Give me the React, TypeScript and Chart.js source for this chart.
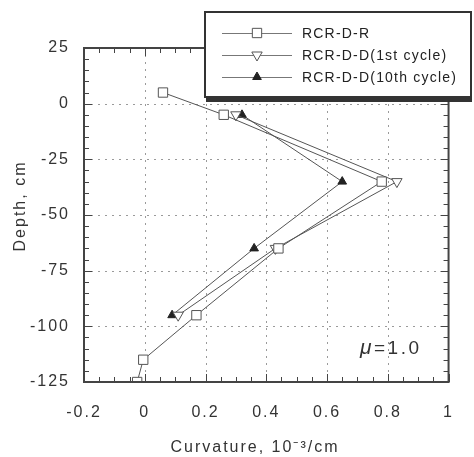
import React, { useEffect, useRef } from "react";
import { Chart, registerables } from "chart.js";

Chart.register(...registerables);

const seriesNames = ["RCR-D-R", "RCR-D-D(1st cycle)", "RCR-D-D(10th cycle)"];
const rX = [0.06, 0.26, 0.78, 0.44, 0.17, -0.005, -0.025];
const rY = [5, -5, -35, -65, -95, -115, -125];
const d1X = [0.3, 0.83, 0.43, 0.11];
const d1Y = [-5, -35, -65, -95];
const d10X = [0.32, 0.65, 0.36, 0.09];
const d10Y = [-5, -35, -65, -95];
const xTicks = [-0.2, 0, 0.2, 0.4, 0.6, 0.8, 1];
const yTicks = [25, 0, -25, -50, -75, -100, -125];
const xTitle = "Curvature, 10⁻³/cm";
const yTitle = "Depth, cm";
const muLabel = "=1.0";

const pts = (xs: number[], ys: number[]) => xs.map((x, i) => ({ x, y: ys[i] }));

const LINE = "#555";
const FONT = "Arial, 'Liberation Sans', sans-serif";

function drawMarker(
  ctx: CanvasRenderingContext2D,
  style: string,
  r: number,
  rot: number,
  x: number,
  y: number
) {
  ctx.beginPath();
  if (style === "rect") {
    const s = Math.SQRT1_2 * r;
    ctx.rect(x - s, y - s, 2 * s, 2 * s);
  } else {
    const a = (rot * Math.PI) / 180;
    for (let k = 0; k < 3; k++) {
      const ang = a - Math.PI / 2 + (k * 2 * Math.PI) / 3;
      const px = x + Math.cos(ang) * r;
      const py = y + Math.sin(ang) * r;
      if (k === 0) ctx.moveTo(px, py);
      else ctx.lineTo(px, py);
    }
    ctx.closePath();
  }
  ctx.fill();
  ctx.stroke();
}

const overlay = {
  id: "overlay",
  beforeDraw(chart: any) {
    chart.ctx.letterSpacing = "2px";
  },
  beforeDatasetsDraw(chart: any) {
    const ctx = chart.ctx as CanvasRenderingContext2D;
    const { left, right, top, bottom } = chart.chartArea;
    const xs = chart.scales.x;
    const ys = chart.scales.y;
    ctx.save();
    ctx.strokeStyle = "#9a9a9a";
    ctx.lineWidth = 1;
    ctx.setLineDash([2, 5]);
    ctx.beginPath();
    xs.ticks.forEach((t: any) => {
      const px = Math.round(xs.getPixelForValue(t.value)) + 0.5;
      if (px <= left + 2 || px >= right - 2) return;
      ctx.moveTo(px, top);
      ctx.lineTo(px, bottom);
    });
    ys.ticks.forEach((t: any) => {
      const py = Math.round(ys.getPixelForValue(t.value)) + 0.5;
      if (py <= top + 2 || py >= bottom - 2) return;
      ctx.moveTo(left, py);
      ctx.lineTo(right, py);
    });
    ctx.stroke();
    ctx.restore();
  },
  afterDraw(chart: any) {
    const ctx = chart.ctx as CanvasRenderingContext2D;
    const { left, right, top, bottom } = chart.chartArea;
    const xs = chart.scales.x;
    const ys = chart.scales.y;
    ctx.save();
    ctx.letterSpacing = "0px";
    // minor ticks
    ctx.strokeStyle = "#444";
    ctx.lineWidth = 1;
    ctx.beginPath();
    for (let i = -4; i <= 20; i++) {
      const v = i * 0.05;
      const px = Math.round(xs.getPixelForValue(v)) + 0.5;
      const len = i % 4 === 0 ? 8 : 5;
      ctx.moveTo(px, bottom);
      ctx.lineTo(px, bottom - len);
      ctx.moveTo(px, top);
      ctx.lineTo(px, top + len);
    }
    for (let i = -25; i <= 5; i++) {
      const v = i * 5;
      const py = Math.round(ys.getPixelForValue(v)) + 0.5;
      const len = i % 5 === 0 ? 8 : 5;
      ctx.moveTo(left, py);
      ctx.lineTo(left + len, py);
      ctx.moveTo(right, py);
      ctx.lineTo(right - len, py);
    }
    ctx.stroke();
    // frame
    ctx.strokeStyle = "#444";
    ctx.lineWidth = 2;
    ctx.strokeRect(left, top, right - left, bottom - top);

    // axis titles
    ctx.fillStyle = "#333";
    ctx.letterSpacing = "2px";
    ctx.font = `16px ${FONT}`;
    ctx.textAlign = "center";
    ctx.textBaseline = "middle";
    ctx.fillText(xTitle, 255, 448);
    ctx.save();
    ctx.translate(21, 206);
    ctx.rotate(-Math.PI / 2);
    ctx.fillText(yTitle, 0, 0);
    ctx.restore();

    // mu label
    ctx.textAlign = "left";
    ctx.textBaseline = "alphabetic";
    ctx.letterSpacing = "0px";
    ctx.font = `italic 21px ${FONT}`;
    ctx.fillText("μ", 360, 354);
    ctx.letterSpacing = "2.5px";
    ctx.font = `19px ${FONT}`;
    ctx.fillText(muLabel, 374, 354);

    // legend box
    const bx = 205, by = 12, bw = 266, bh = 85;
    ctx.fillStyle = "#fff";
    ctx.fillRect(bx, by, bw, bh);
    ctx.fillStyle = "#333";
    ctx.fillRect(bx + 1, by + bh - 1, bw, 6);
    ctx.strokeStyle = "#333";
    ctx.lineWidth = 2;
    ctx.strokeRect(bx, by, bw, bh);

    const rows = [33, 55, 77];
    chart.data.datasets.forEach((ds: any, i: number) => {
      const yy = rows[i];
      ctx.strokeStyle = "#777";
      ctx.lineWidth = 1;
      ctx.beginPath();
      ctx.moveTo(222, yy + 0.5);
      ctx.lineTo(292, yy + 0.5);
      ctx.stroke();
      ctx.fillStyle = ds.pointBackgroundColor;
      ctx.strokeStyle = ds.pointBorderColor;
      ctx.lineWidth = 1;
      drawMarker(ctx, ds.pointStyle, ds.pointRadius, ds.pointRotation || 0, 257, yy);
      ctx.fillStyle = "#222";
      ctx.letterSpacing = "1.2px";
      ctx.font = `14px ${FONT}`;
      ctx.textAlign = "left";
      ctx.textBaseline = "middle";
      ctx.fillText(ds.label, 302, yy + 1);
    });
    ctx.restore();
  },
};

export default function App() {
  const ref = useRef<HTMLCanvasElement | null>(null);
  useEffect(() => {
    if (!ref.current) return;
    const chart = new Chart(ref.current, {
      type: "line",
      data: {
        datasets: [
          {
            label: seriesNames[0],
            data: pts(rX, rY),
            borderColor: LINE,
            borderWidth: 1,
            pointStyle: "rect",
            pointRadius: 6.6,
            pointBackgroundColor: "#fff",
            pointBorderColor: "#555",
            pointBorderWidth: 1,
            showLine: true,
          },
          {
            label: seriesNames[1],
            data: pts(d1X, d1Y),
            borderColor: LINE,
            borderWidth: 1,
            pointStyle: "triangle",
            pointRotation: 180,
            pointRadius: 6,
            pointBackgroundColor: "#fff",
            pointBorderColor: "#555",
            pointBorderWidth: 1,
            showLine: true,
          },
          {
            label: seriesNames[2],
            data: pts(d10X, d10Y),
            borderColor: LINE,
            borderWidth: 1,
            pointStyle: "triangle",
            pointRadius: 5,
            pointBackgroundColor: "#222",
            pointBorderColor: "#222",
            pointBorderWidth: 1,
            showLine: true,
          },
        ] as any,
      },
      options: {
        animation: false,
        responsive: false,
        layout: { padding: { top: 48, right: 24, left: 0, bottom: 0 } },
        plugins: { legend: { display: false }, tooltip: { enabled: false } },
        elements: { line: { tension: 0 } },
        scales: {
          x: {
            type: "linear",
            min: -0.2,
            max: 1,
            afterFit: (s: any) => {
              s.height = 75;
            },
            afterBuildTicks: (s: any) => {
              s.ticks = xTicks.map((v) => ({ value: v }));
            },
            ticks: {
              padding: 21,
              color: "#333",
              font: { size: 16, family: FONT },
              callback: (v: any) => String(Math.round(Number(v) * 10) / 10),
            },
            grid: { display: false, drawTicks: false },
            border: { display: false },
          },
          y: {
            type: "linear",
            min: -125,
            max: 25,
            afterFit: (s: any) => {
              s.width = 84;
            },
            afterBuildTicks: (s: any) => {
              s.ticks = yTicks.map((v) => ({ value: v }));
            },
            ticks: {
              padding: 14,
              color: "#333",
              font: { size: 16, family: FONT },
              callback: (v: any) => String(v),
            },
            grid: { display: false, drawTicks: false },
            border: { display: false },
          },
        },
      } as any,
      plugins: [overlay],
    });
    return () => chart.destroy();
  }, []);
  return (
    <div style={{ position: "absolute", left: 0, top: 0, width: 474, height: 457 }}>
      <canvas ref={ref} width={474} height={457} style={{ display: "block" }} />
    </div>
  );
}
